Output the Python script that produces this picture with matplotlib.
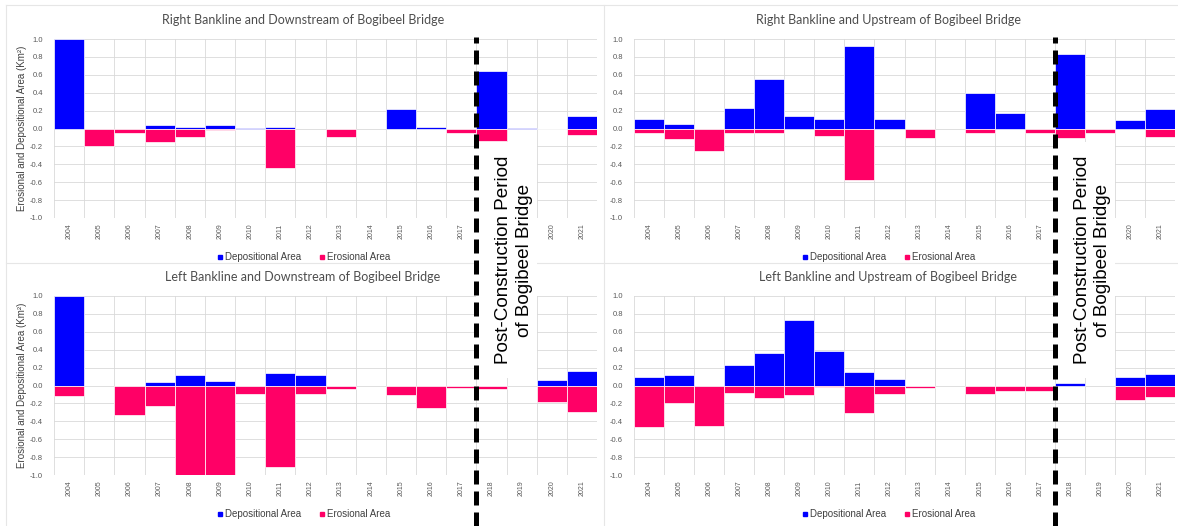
import matplotlib
matplotlib.use("Agg")
import matplotlib.pyplot as plt
import matplotlib.transforms as mtransforms
from matplotlib.lines import Line2D
from matplotlib.patches import Rectangle
import numpy as np

plt.rcParams['font.family'] = ['Liberation Sans', 'DejaVu Sans']

years = ['2004', '2005', '2006', '2007', '2008', '2009', '2010', '2011', '2012',
         '2013', '2014', '2015', '2016', '2017', '2018', '2019', '2020', '2021']

# right bankline, downstream of the bridge
rd_dep = np.array([1.00, 0, 0, 0.037, 0.02, 0.044, 0.01, 0.02, 0,
                   0, 0, 0.215, 0.015, 0, 0.637, 0.01, 0, 0.137])
rd_ero = np.array([0, -0.19, -0.055, -0.15, -0.09, -0.02, 0, -0.44, 0,
                   -0.10, 0, 0, 0, -0.05, -0.137, 0, -0.007, -0.074])

# right bankline, upstream
ru_dep = np.array([0.11, 0.048, 0, 0.233, 0.548, 0.14, 0.11, 0.926, 0.11,
                   0, 0, 0.40, 0.178, 0, 0.833, 0, 0.10, 0.22])
ru_ero = np.array([-0.05, -0.12, -0.25, -0.055, -0.05, 0, -0.08, -0.574, 0,
                   -0.11, 0, -0.055, 0, -0.055, -0.11, -0.055, 0, -0.09])

# left bankline, downstream
ld_dep = np.array([1.00, 0, 0, 0.037, 0.12, 0.055, 0, 0.14, 0.12,
                   0, 0, 0, 0, 0, 0, 0, 0.063, 0.167])
ld_ero = np.array([-0.12, 0, -0.33, -0.23, -1.0, -1.0, -0.093, -0.915, -0.10,
                   -0.037, 0, -0.11, -0.25, -0.026, -0.044, 0, -0.18, -0.30])

# left bankline, upstream
lu_dep = np.array([0.093, 0.12, 0, 0.233, 0.363, 0.73, 0.38, 0.155, 0.074,
                   0, 0, 0, 0, 0, 0.026, 0, 0.093, 0.13])
lu_ero = np.array([-0.46, -0.20, -0.45, -0.08, -0.137, -0.11, -0.02, -0.31, -0.093,
                   -0.026, 0, -0.093, -0.063, -0.056, 0, 0, -0.16, -0.13])

titles = ['Right Bankline and Downstream of Bogibeel Bridge',
          'Right Bankline and Upstream of Bogibeel Bridge',
          'Left Bankline and Downstream of Bogibeel Bridge',
          'Left Bankline and Upstream of Bogibeel Bridge']

BLUE = '#0000ff'
PINK = '#ff0066'
GRID = '#d9d9d9'
TXT = '#595959'

W, H = 1178, 526
fig = plt.figure(figsize=(W / 100, H / 100), dpi=100)


def rect(l, t, r, b):
    return [l / W, 1 - b / H, (r - l) / W, (b - t) / H]


def fy(y):
    return 1 - y / H


# panel frames
for y in (5, 263):
    fig.add_artist(Line2D([6 / W, 1], [fy(y), fy(y)], color='#e6e6e6', lw=0.8))
fig.add_artist(Line2D([6 / W, 6 / W], [0, fy(5)], color='#e6e6e6', lw=0.8))
fig.add_artist(Line2D([604 / W, 604 / W], [0, fy(5)], color='#e6e6e6', lw=0.8))

panels = [
    (rect(54, 39, 597, 218), rd_dep, rd_ero, titles[0], 303, 20, 257, True),
    (rect(634, 39, 1175, 218), ru_dep, ru_ero, titles[1], 888, 20, 257, False),
    (rect(54, 296, 597, 475), ld_dep, ld_ero, titles[2], 303, 277, 514, True),
    (rect(634, 296, 1175, 475), lu_dep, lu_ero, titles[3], 888, 277, 514, False),
]

x = np.arange(len(years))
yt = np.round(np.linspace(-1, 1, 11), 1) + 0.0
axes = []
for box, dep, ero, title, cx, ty, ly, show_ylabel in panels:
    ax = fig.add_axes(box)
    axes.append(ax)
    m = dep != 0
    ax.bar(x[m], dep[m], width=1.0, color=BLUE, edgecolor='white', linewidth=0.5, zorder=2)
    m = ero != 0
    ax.bar(x[m], ero[m], width=1.0, color=PINK, edgecolor='white', linewidth=0.5, zorder=2)
    ax.set_xlim(-0.5, len(years) - 0.5)
    ax.set_ylim(-1, 1)
    ax.set_yticks(yt)
    ax.set_yticklabels([f'{t:.1f}' for t in yt], fontsize=5.5, color=TXT)
    ax.set_xticks(x)
    ax.set_xticklabels(years, rotation=90, fontsize=5, color=TXT)
    ax.set_xticks(np.arange(-0.5, len(years), 1), minor=True)
    ax.tick_params(which='both', length=0)
    ax.tick_params(axis='y', pad=8)
    ax.tick_params(axis='x', pad=4)
    ax.grid(axis='y', which='major', color=GRID, lw=0.6)
    ax.grid(axis='x', which='minor', color=GRID, lw=0.6)
    ax.set_axisbelow(True)
    for s in ax.spines.values():
        s.set_visible(False)

    fig.text(cx / W, fy(ty), title, ha='center', va='center', fontsize=9,
             color='#4d4d4d', family=['Lato', 'DejaVu Sans'])
    if show_ylabel:
        fig.text(22 / W, (box[1] + box[3] / 2), 'Erosional and Depositional Area (Km²)',
                 rotation=90, ha='center', va='center', fontsize=7, color='#404040')
    handles = [Line2D([], [], marker='s', ls='', color=BLUE, markersize=3.5),
               Line2D([], [], marker='s', ls='', color=PINK, markersize=3.5)]
    fig.legend(handles, ['Depositional Area', 'Erosional Area'], loc='center',
               bbox_to_anchor=(cx / W, fy(ly)), ncol=2, frameon=False, fontsize=7,
               handletextpad=0.1, columnspacing=1.8, labelcolor='#404040',
               handlelength=0.8)

# post-construction marker: white label box + dashed divider between 2017 and 2018
for ax in axes[:2]:
    # the 2018/2019 year labels sit under the label box
    for lbl in ax.get_xticklabels()[14:16]:
        lbl.set_visible(False)
    tr = mtransforms.blended_transform_factory(ax.transData, fig.transFigure)
    fig.add_artist(Rectangle((13.5, fy(378)), 2.0, fy(142) - fy(378), transform=tr,
                             facecolor='white', edgecolor='none', zorder=3))
    fig.add_artist(Line2D([13.5, 13.5], [0, fy(37)], transform=tr, color='black',
                          lw=3.6, linestyle=(0, (2.8, 1.4)), zorder=4))
    fig.text(14.75, fy(260), 'Post-Construction Period\nof Bogibeel Bridge', transform=tr,
             rotation=90, ha='center', va='center', fontsize=13.6, linespacing=1.25,
             color='black', zorder=5)

fig.savefig('out.png', dpi=100)
